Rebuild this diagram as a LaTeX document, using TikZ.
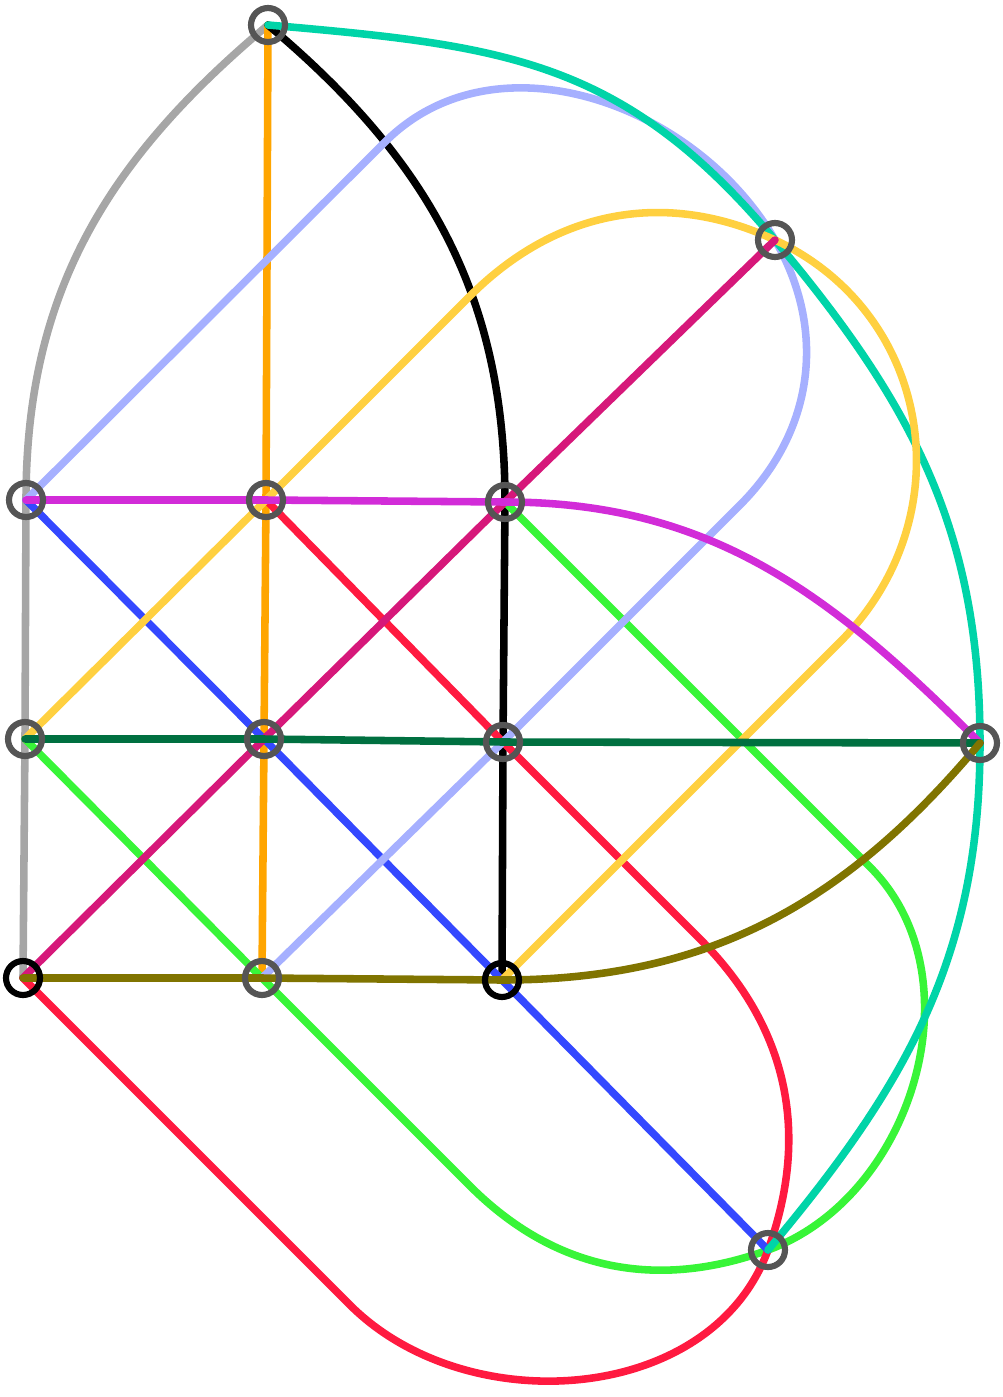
\documentclass[tikz,border=0pt]{standalone}
\usetikzlibrary{backgrounds}

\definecolor{stgray}{RGB}{85,85,85}
\definecolor{lgray}{RGB}{166,166,166}
\definecolor{lorange}{RGB}{255,165,0}
\definecolor{lteal}{RGB}{0,212,168}
\definecolor{lblue}{RGB}{166,176,255}
\definecolor{lyellow}{RGB}{255,208,64}
\definecolor{lcrimson}{RGB}{214,24,122}
\definecolor{lpurple}{RGB}{210,44,216}
\definecolor{ldeepblue}{RGB}{52,72,255}
\definecolor{lred}{RGB}{255,26,64}
\definecolor{lgreen}{RGB}{56,245,56}
\definecolor{ldarkgreen}{RGB}{0,112,64}
\definecolor{lolive}{RGB}{128,116,0}

\tikzset{
  station/.style={circle,draw=stgray,line width=3.5pt,minimum size=0.68cm,inner sep=0pt},
  track/.style={line width=4.3pt,line cap=round,line join=round},
}

\begin{document}
\begin{tikzpicture}[x=0.02cm,y=0.02cm]
  \useasboundingbox (0,0) rectangle (1002,-1397);

  % Stations
  \node[station] (a) at (268,-25) {};
  \node[station] (b) at (775,-240) {};
  \node[station] (c) at (26,-500) {};
  \node[station] (d) at (266,-500) {};
  \node[station] (e) at (505,-502) {};
  \node[station] (f) at (25,-739) {};
  \node[station] (g) at (264,-739) {};
  \node[station] (h) at (503,-742) {};
  \node[station] (i) at (980,-743) {};
  \node[station,draw=black] (j) at (23,-978) {};
  \node[station] (k) at (262,-978) {};
  \node[station,draw=black] (l) at (502,-980) {};
  \node[station] (m) at (768,-1250) {};

  % Bends
  \coordinate (lb1) at (385,-142);
  \coordinate (lb2) at (740,-505);
  \coordinate (y1) at (470,-296);
  \coordinate (y2) at (840,-642);
  \coordinate (r1) at (700,-939);
  \coordinate (r2) at (350,-1305);
  \coordinate (g1) at (870,-867);
  \coordinate (g2) at (470,-1186);

  \begin{pgfonlayer}{background}
  \draw[track,draw=lgray] (a.center) to[out=-140,in=90] (c.center) -- (f.center) -- (j.center);

  \draw[track,draw=lorange] (a.center) -- (d.center) -- (g.center) -- (k.center);

  \draw[track,draw=black] (a.center) to[out=-40,in=90] (e.center) -- (h.center) -- (l.center);

  \draw[track,draw=lgreen] (e.center) -- (g1) to[out=-45,in=20] (m.center)
    to[out=200,in=-45] (g2) -- (k.center) -- (f.center);

  \draw[track,draw=lred] (d.center) -- (h.center) -- (r1) to[out=-45,in=70] (m.center)
    to[out=-110,in=-45] (r2) -- (j.center);

  \draw[track,draw=ldeepblue] (c.center) -- (g.center) -- (l.center) -- (m.center);

  \draw[track,draw=lblue] (c.center) -- (lb1) to[out=45,in=120] (b.center)
    to[out=-60,in=45] (lb2) -- (h.center) -- (k.center);

  \draw[track,draw=lteal] (a.center) to[out=-5,in=130,looseness=1.1] (b.center)
    to[out=-50,in=90] (i.center) to[out=-90,in=50] (m.center);

  \draw[track,draw=lyellow] (f.center) -- (d.center) -- (y1) to[out=45,in=155] (b.center)
    to[out=-25,in=45,looseness=1.1] (y2) -- (l.center);

  \draw[track,draw=lcrimson] (j.center) -- (g.center) -- (e.center) -- (b.center);

  \draw[track,draw=lpurple] (c.center) -- (d.center) -- (e.center) to[out=0,in=135] (i.center);

  \draw[track,draw=ldarkgreen] (f.center) -- (g.center) -- (h.center) -- (i.center);

  \draw[track,draw=lolive] (j.center) -- (k.center) -- (l.center) to[out=0,in=-130] (i.center);
  \end{pgfonlayer}

\end{tikzpicture}
\end{document}
